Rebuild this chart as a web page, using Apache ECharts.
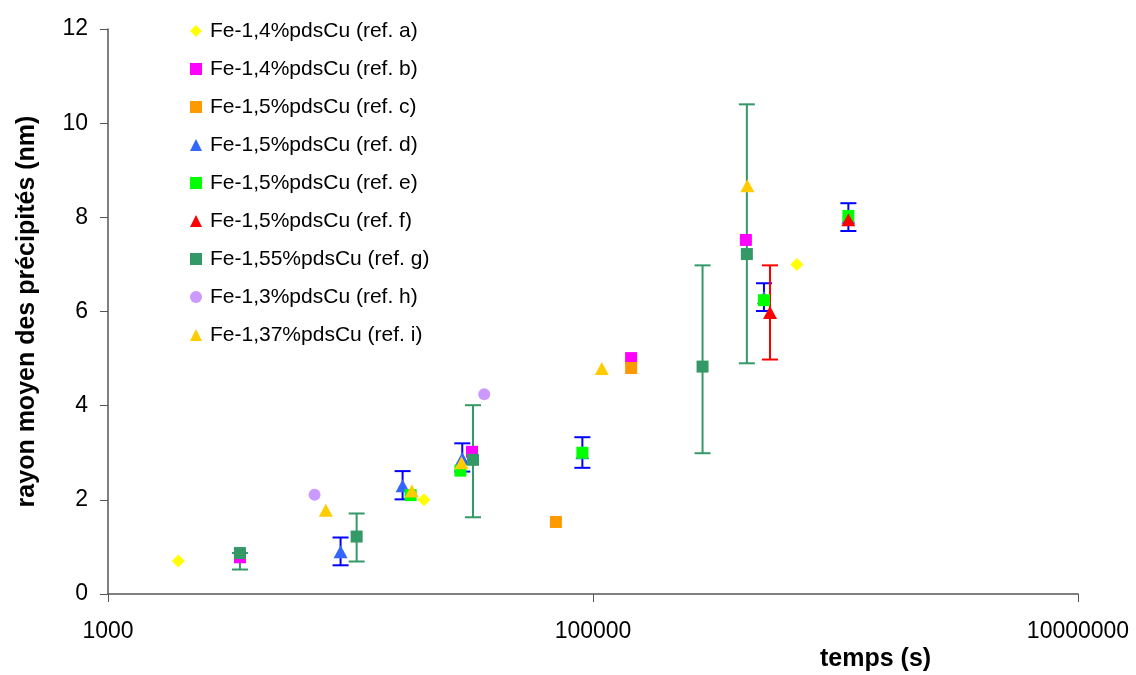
<!DOCTYPE html>
<html>
<head>
<meta charset="utf-8">
<title>rayon moyen des précipités</title>
<script src="https://cdn.jsdelivr.net/npm/echarts@6.0.0/dist/echarts.min.js"></script>
<style>
  html, body { margin: 0; padding: 0; background: #fff; }
  #chart { width: 1136px; height: 675px; }
</style>
</head>
<body>
<div id="chart"></div>
<script>
// series names (legend order)
const seriesNames = [
  'Fe-1,4%pdsCu (ref. a)',
  'Fe-1,4%pdsCu (ref. b)',
  'Fe-1,5%pdsCu (ref. c)',
  'Fe-1,5%pdsCu (ref. d)',
  'Fe-1,5%pdsCu (ref. e)',
  'Fe-1,5%pdsCu (ref. f)',
  'Fe-1,55%pdsCu (ref. g)',
  'Fe-1,3%pdsCu (ref. h)',
  'Fe-1,37%pdsCu (ref. i)'
];

// [temps (s), rayon (nm)]
const refA = [[1950, 0.7], [20100, 2.0], [693000, 7.0]];
const refB = [[3500, 0.78], [31700, 3.02], [143600, 5.01], [427000, 7.52]];
const refC = [[70300, 1.53], [143600, 4.8]];
const refD = [[9100, 0.9], [16400, 2.3], [28900, 2.88], [90400, 3.0], [507000, 6.3], [1130000, 8.0]];
const refE = [[17700, 2.1], [28400, 2.62], [90400, 3.0], [507000, 6.24], [1130000, 8.03]];
const refF = [[537000, 5.98], [1130000, 7.95]];
const refG = [[3500, 0.87], [10600, 1.22], [32000, 2.85], [283000, 4.83], [431000, 7.22]];
const refH = [[7110, 2.11], [35600, 4.24]];
const refI = [[7910, 1.78], [17900, 2.19], [28700, 2.79], [108700, 4.79], [433000, 8.67]];

// error bars: [temps, bas, haut]
const errD = [[9100, 0.61, 1.2], [16400, 2.01, 2.61], [28900, 2.6, 3.2], [90400, 2.68, 3.33], [507000, 6.01, 6.6], [1130000, 7.71, 8.3]];
const errF = [[537000, 4.98, 6.98]];
const errG = [[3500, 0.52, 0.87], [10600, 0.69, 1.71], [32000, 1.63, 4.01], [283000, 2.99, 6.98], [431000, 4.9, 10.4]];

// axis ticks
const xTicks = [1000, 100000, 10000000];
const yMin = 0, yMax = 12, yStep = 2;

const FONT = '"Liberation Sans", Arial, sans-serif';

const seriesData = [refA, refB, refC, refD, refE, refF, refG, refH, refI];
const symbols = ['diamond', 'rect', 'rect', 'triangle', 'rect', 'triangle', 'rect', 'circle', 'triangle'];
const sizes = [[13, 13], 12, 12, [14, 13], 12, [14, 13], 12, 12, [14, 13]];
const colors = ['#FFFF00', '#FF00FF', '#FF9900', '#3366FF', '#00FF00', '#FF0000', '#339966', '#CC99FF', '#FFCC00'];

function errorSeries(data, color) {
  return {
    type: 'custom',
    z: 1,
    silent: true,
    data: data,
    renderItem: function (params, api) {
      const x = api.value(0);
      const lo = api.coord([x, api.value(1)]);
      const hi = api.coord([x, api.value(2)]);
      const hw = 8;
      const style = { stroke: color, lineWidth: 2 };
      return {
        type: 'group',
        children: [
          { type: 'line', shape: { x1: lo[0], y1: lo[1], x2: hi[0], y2: hi[1] }, style: style },
          { type: 'line', shape: { x1: hi[0] - hw, y1: hi[1], x2: hi[0] + hw, y2: hi[1] }, style: style },
          { type: 'line', shape: { x1: lo[0] - hw, y1: lo[1], x2: lo[0] + hw, y2: lo[1] }, style: style }
        ]
      };
    }
  };
}

const chart = echarts.init(document.getElementById('chart'));

const series = [
  errorSeries(errG, '#339966'),
  errorSeries(errD, '#0000FF'),
  errorSeries(errF, '#FF0000')
];
seriesData.forEach((d, i) => {
  series.push({
    name: seriesNames[i],
    type: 'scatter',
    z: 2,
    data: d,
    symbol: symbols[i],
    symbolSize: sizes[i],
    itemStyle: { color: colors[i], opacity: 1 }
  });
});

chart.setOption({
  backgroundColor: '#ffffff',
  animation: false,
  textStyle: { fontFamily: FONT },
  grid: { left: 108, right: 58, top: 29, bottom: 81 },
  legend: {
    orient: 'vertical',
    left: 185,
    top: 15,
    itemWidth: 12,
    itemHeight: 12,
    itemGap: 16,
    data: seriesNames.map((n, i) => ({ name: n, icon: symbols[i] })),
    textStyle: { fontSize: 21, lineHeight: 22, color: '#000', fontFamily: FONT, padding: [0, 0, 0, 3] }
  },
  xAxis: {
    type: 'log',
    logBase: 10,
    min: xTicks[0],
    max: xTicks[xTicks.length - 1],
    axisLine: { show: true, lineStyle: { color: '#555', width: 1.5 } },
    axisTick: { show: true, length: 8, customValues: xTicks, lineStyle: { color: '#555' } },
    minorTick: { show: false },
    axisLabel: {
      customValues: xTicks,
      formatter: v => String(Math.round(v)),
      fontSize: 23, color: '#000', margin: 26, fontFamily: FONT
    },
    splitLine: { show: false }
  },
  yAxis: {
    type: 'value',
    min: yMin,
    max: yMax,
    interval: yStep,
    name: 'rayon moyen des précipités (nm)',
    nameLocation: 'middle',
    nameGap: 68,
    nameTextStyle: { fontSize: 25, fontWeight: 'bold', color: '#000', fontFamily: FONT },
    axisLine: { show: true, lineStyle: { color: '#555', width: 1.5 } },
    axisTick: { show: true, length: 8, lineStyle: { color: '#555' } },
    axisLabel: { fontSize: 23, color: '#000', margin: 20, fontFamily: FONT },
    splitLine: { show: false }
  },
  graphic: [{
    type: 'text',
    left: 820,
    top: 647,
    style: { text: 'temps (s)', font: 'bold 25px ' + FONT, fill: '#000' }
  }],
  series: series
});
</script>
</body>
</html>
